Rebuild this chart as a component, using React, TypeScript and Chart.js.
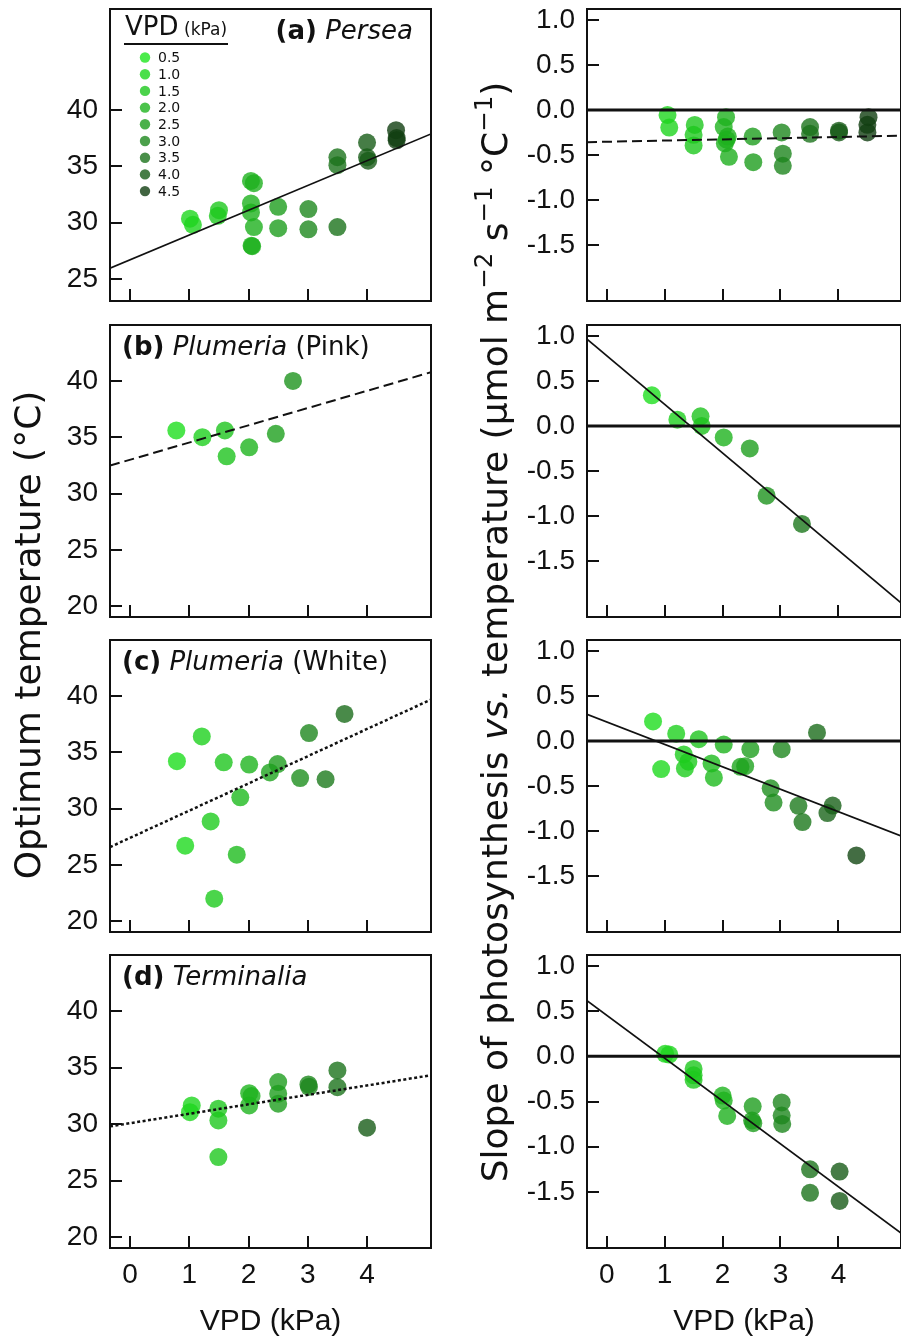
import React, { useEffect, useRef } from "react";
import { Chart, registerables } from "chart.js";

Chart.register(...registerables);

// ---------------- data ----------------
const X_TICKS = [0, 1, 2, 3, 4];
const TOPT_TICKS_PERSEA = [25, 30, 35, 40];
const TOPT_TICKS = [20, 25, 30, 35, 40];
const SLOPE_TICKS = [1.0, 0.5, 0.0, -0.5, -1.0, -1.5];
const LEGEND_VPD = ["0.5", "1.0", "1.5", "2.0", "2.5", "3.0", "3.5", "4.0", "4.5"];

const PANEL_LETTERS = ["(a)", "(b)", "(c)", "(d)"];
const GENUS = ["Persea", "Plumeria", "Plumeria", "Terminalia"];
const VARIETY = ["", "(Pink)", "(White)", ""];

// (a) Persea
const PERSEA_TOPT_VPD = [1.01, 1.06, 1.5, 1.48, 2.04, 2.09, 2.04, 2.04, 2.09, 2.05, 2.06, 2.5, 2.5, 3.01, 3.01, 3.5, 3.5, 3.5, 4.0, 4.0, 4.02, 4.49, 4.5, 4.5];
const PERSEA_TOPT = [30.35, 29.8, 31.1, 30.6, 33.7, 33.5, 31.7, 30.9, 29.6, 27.95, 27.9, 31.4, 29.5, 31.2, 29.4, 29.6, 35.8, 35.1, 37.1, 35.8, 35.5, 38.2, 37.5, 37.3];
const PERSEA_SLOPE_VPD = [1.05, 1.08, 1.52, 1.5, 1.5, 2.06, 2.02, 2.09, 2.04, 2.07, 2.11, 2.52, 2.53, 3.02, 3.04, 3.04, 3.51, 3.51, 4.01, 4.01, 4.52, 4.5, 4.5];
const PERSEA_SLOPE = [-0.055, -0.195, -0.166, -0.276, -0.394, -0.08, -0.19, -0.295, -0.37, -0.33, -0.52, -0.295, -0.58, -0.25, -0.485, -0.62, -0.19, -0.265, -0.23, -0.25, -0.08, -0.165, -0.25];
// (b) Plumeria (Pink)
const PINK_TOPT_VPD = [0.78, 1.22, 1.6, 1.63, 2.01, 2.46, 2.75];
const PINK_TOPT = [35.6, 35.0, 35.6, 33.3, 34.1, 35.3, 40.0];
const PINK_SLOPE_VPD = [0.78, 1.22, 1.62, 1.64, 2.02, 2.47, 2.76, 3.37];
const PINK_SLOPE = [0.34, 0.07, 0.107, 0.0, -0.128, -0.25, -0.774, -1.087];
// (c) Plumeria (White)
const WHITE_TOPT_VPD = [0.79, 1.21, 1.58, 2.01, 2.36, 2.49, 2.87, 3.02, 3.3, 3.62, 1.86, 1.36, 0.93, 1.8, 1.42];
const WHITE_TOPT = [34.2, 36.4, 34.1, 33.9, 33.2, 33.95, 32.7, 36.7, 32.6, 38.4, 31.0, 28.85, 26.7, 25.9, 22.0];
const WHITE_SLOPE_VPD = [0.8, 0.94, 1.2, 1.33, 1.41, 1.35, 1.59, 1.81, 1.85, 2.02, 2.31, 2.39, 2.48, 2.83, 2.88, 3.02, 3.31, 3.38, 3.63, 3.81, 3.9, 4.31];
const WHITE_SLOPE = [0.217, -0.312, 0.08, -0.15, -0.23, -0.305, 0.019, -0.25, -0.408, -0.04, -0.287, -0.28, -0.092, -0.526, -0.684, -0.092, -0.72, -0.9, 0.092, -0.8, -0.717, -1.27];
// (d) Terminalia
const TERM_TOPT_VPD = [1.04, 1.01, 1.49, 1.49, 1.49, 2.01, 2.05, 2.01, 2.5, 2.5, 2.5, 3.01, 3.02, 3.5, 3.5, 4.0];
const TERM_TOPT = [31.65, 31.06, 31.36, 30.33, 27.08, 32.74, 32.48, 31.65, 33.72, 32.69, 31.8, 33.51, 33.3, 34.75, 33.27, 29.68];
const TERM_SLOPE_VPD = [1.01, 1.08, 1.5, 1.5, 1.5, 2.0, 2.02, 2.08, 2.52, 2.51, 2.53, 3.02, 3.02, 3.03, 3.51, 3.51, 4.02, 4.02];
const TERM_SLOPE = [0.027, 0.019, -0.14, -0.21, -0.26, -0.435, -0.49, -0.66, -0.553, -0.71, -0.74, -0.51, -0.656, -0.748, -1.25, -1.51, -1.275, -1.6];

// fitted lines: y at the left and right ends of the x range
const FIT_PERSEA_TOPT = [25.96, 37.87];
const FIT_PINK_TOPT = [32.48, 40.77];
const FIT_WHITE_TOPT = [26.58, 39.67];
const FIT_TERM_TOPT = [29.8, 34.32];
const FIT_PERSEA_SLOPE = [-0.3575, -0.286];
const FIT_PINK_SLOPE = [0.963, -1.964];
const FIT_WHITE_SLOPE = [0.295, -1.055];
const FIT_TERM_SLOPE = [0.614, -1.955];

// axis ranges
const X_RANGE = [-0.34, 5.08];
const TOPT_RANGE_PERSEA = [23.04, 48.96];
const TOPT_RANGE = [19.04, 44.96];
const SLOPE_RANGE = [-2.12, 1.12];

// ---------------- style ----------------
const PALETTE = [
  [30, 230, 30],
  [30, 215, 30],
  [30, 200, 30],
  [30, 180, 30],
  [30, 158, 30],
  [30, 136, 30],
  [28, 115, 28],
  [24, 92, 24],
  [18, 62, 18],
];
const ALPHA = 0.8;

function colorFor(v: number) {
  let t = (v - 0.5) / 0.5;
  if (t < 0) t = 0;
  if (t > 8) t = 8;
  const i = Math.min(7, Math.floor(t));
  const f = t - i;
  const a = PALETTE[i];
  const b = PALETTE[i + 1];
  const c = a.map((ch, k) => Math.round(ch + (b[k] - ch) * f));
  return `rgba(${c[0]},${c[1]},${c[2]},${ALPHA})`;
}

const SANS = '"Liberation Sans", Arial, sans-serif';
const DEJAVU = '"DejaVu Sans", Verdana, sans-serif';
const INK = "#111";

const COLS = [
  { left: 0, yAxisW: 110, w: 445, padRight: 14 },
  { left: 500, yAxisW: 87, w: 410, padRight: 2 },
];
const ROWS = [
  { top: 0, h: 310, xAxisH: 8 },
  { top: 316, h: 310, xAxisH: 8 },
  { top: 631, h: 310, xAxisH: 8 },
  { top: 946, h: 394, xAxisH: 92 },
];

type PanelSpec = {
  row: number;
  col: number;
  xs: number[];
  ys: number[];
  fit: number[];
  dash: number[];
  fitWidth: number;
  yRange: number[];
  yTicks: number[];
  slope: boolean;
  title?: number;
  legend?: boolean;
};

const PANELS: PanelSpec[] = [
  { row: 0, col: 0, xs: PERSEA_TOPT_VPD, ys: PERSEA_TOPT, fit: FIT_PERSEA_TOPT, dash: [], fitWidth: 1.7, yRange: TOPT_RANGE_PERSEA, yTicks: TOPT_TICKS_PERSEA, slope: false, title: 0, legend: true },
  { row: 0, col: 1, xs: PERSEA_SLOPE_VPD, ys: PERSEA_SLOPE, fit: FIT_PERSEA_SLOPE, dash: [10, 5], fitWidth: 2, yRange: SLOPE_RANGE, yTicks: SLOPE_TICKS, slope: true },
  { row: 1, col: 0, xs: PINK_TOPT_VPD, ys: PINK_TOPT, fit: FIT_PINK_TOPT, dash: [10, 5], fitWidth: 2, yRange: TOPT_RANGE, yTicks: TOPT_TICKS, slope: false, title: 1 },
  { row: 1, col: 1, xs: PINK_SLOPE_VPD, ys: PINK_SLOPE, fit: FIT_PINK_SLOPE, dash: [], fitWidth: 1.7, yRange: SLOPE_RANGE, yTicks: SLOPE_TICKS, slope: true },
  { row: 2, col: 0, xs: WHITE_TOPT_VPD, ys: WHITE_TOPT, fit: FIT_WHITE_TOPT, dash: [3, 2.5], fitWidth: 2.5, yRange: TOPT_RANGE, yTicks: TOPT_TICKS, slope: false, title: 2 },
  { row: 2, col: 1, xs: WHITE_SLOPE_VPD, ys: WHITE_SLOPE, fit: FIT_WHITE_SLOPE, dash: [], fitWidth: 1.7, yRange: SLOPE_RANGE, yTicks: SLOPE_TICKS, slope: true },
  { row: 3, col: 0, xs: TERM_TOPT_VPD, ys: TERM_TOPT, fit: FIT_TERM_TOPT, dash: [3, 2.5], fitWidth: 2.5, yRange: TOPT_RANGE, yTicks: TOPT_TICKS, slope: false, title: 3 },
  { row: 3, col: 1, xs: TERM_SLOPE_VPD, ys: TERM_SLOPE, fit: FIT_TERM_SLOPE, dash: [], fitWidth: 1.7, yRange: SLOPE_RANGE, yTicks: SLOPE_TICKS, slope: true },
];

// ---------------- plugins ----------------
const framePlugin = {
  id: "frameTicks",
  afterDatasetsDraw(chart: any) {
    const { ctx, chartArea } = chart;
    const { left, right, top, bottom } = chartArea;
    ctx.save();
    ctx.strokeStyle = INK;
    ctx.lineWidth = 2;
    ctx.strokeRect(left, top, right - left, bottom - top);
    const xs = chart.scales.x;
    const ys = chart.scales.y;
    ctx.beginPath();
    xs.ticks.forEach((t: any) => {
      const px = Math.round(xs.getPixelForValue(t.value));
      ctx.moveTo(px, bottom);
      ctx.lineTo(px, bottom - 12);
    });
    ys.ticks.forEach((t: any) => {
      const py = Math.round(ys.getPixelForValue(t.value));
      ctx.moveTo(left, py);
      ctx.lineTo(left + 12, py);
    });
    ctx.stroke();
    ctx.restore();
  },
};

function makeTitlePlugin(idx: number) {
  return {
    id: "panelTitle",
    afterDraw(chart: any) {
      const { ctx, chartArea } = chart;
      const size = 26;
      const parts: [string, string][] = [
        [PANEL_LETTERS[idx], "bold"],
        [" ", "normal"],
        [GENUS[idx], "italic"],
      ];
      if (VARIETY[idx]) parts.push([" " + VARIETY[idx], "normal"]);
      ctx.save();
      ctx.fillStyle = INK;
      ctx.textBaseline = "alphabetic";
      ctx.textAlign = "left";
      const widths = parts.map(([txt, st]) => {
        ctx.font = `${st} ${size}px ${DEJAVU}`;
        return ctx.measureText(txt).width;
      });
      const total = widths.reduce((a, b) => a + b, 0);
      let x = idx === 0 ? chartArea.right - 18 - total : chartArea.left + 12;
      const y = chartArea.top + 30;
      parts.forEach(([txt, st], i) => {
        ctx.font = `${st} ${size}px ${DEJAVU}`;
        ctx.fillText(txt, x, y);
        x += widths[i];
      });
      ctx.restore();
    },
  };
}

const legendPlugin = {
  id: "vpdLegend",
  afterDraw(chart: any) {
    const { ctx, chartArea } = chart;
    const L = chartArea.left;
    const T = chartArea.top;
    ctx.save();
    ctx.fillStyle = INK;
    ctx.textAlign = "left";
    ctx.textBaseline = "alphabetic";
    ctx.font = `26px ${DEJAVU}`;
    ctx.fillText("VPD", L + 15, T + 26);
    ctx.font = `17px ${DEJAVU}`;
    ctx.fillText("(kPa)", L + 74, T + 26);
    ctx.strokeStyle = INK;
    ctx.lineWidth = 2;
    ctx.beginPath();
    ctx.moveTo(L + 14, T + 35);
    ctx.lineTo(L + 118, T + 35);
    ctx.stroke();
    ctx.font = `14px ${DEJAVU}`;
    ctx.textBaseline = "middle";
    LEGEND_VPD.forEach((lab, i) => {
      const cy = T + 48.5 + i * 16.7;
      ctx.fillStyle = colorFor(parseFloat(lab));
      ctx.beginPath();
      ctx.arc(L + 35, cy, 5.2, 0, Math.PI * 2);
      ctx.fill();
      ctx.fillStyle = INK;
      ctx.fillText(lab, L + 48, cy + 1);
    });
    ctx.restore();
  },
};

function zeroPad(s: any) {
  s.paddingTop = 0;
  s.paddingBottom = 0;
  s.paddingLeft = 0;
  s.paddingRight = 0;
}

function makeConfig(p: PanelSpec): any {
  const col = COLS[p.col];
  const row = ROWS[p.row];
  const bottomRow = p.row === 3;
  const datasets: any[] = [];
  datasets.push({
    data: [
      { x: X_RANGE[0], y: p.fit[0] },
      { x: X_RANGE[1], y: p.fit[1] },
    ],
    showLine: true,
    borderColor: INK,
    borderWidth: p.fitWidth,
    borderDash: p.dash,
    pointRadius: 0,
    order: 0,
  });
  if (p.slope) {
    datasets.push({
      data: [
        { x: X_RANGE[0], y: 0 },
        { x: X_RANGE[1], y: 0 },
      ],
      showLine: true,
      borderColor: INK,
      borderWidth: 3,
      pointRadius: 0,
      order: 0,
    });
  }
  datasets.push({
    data: p.xs.map((x, i) => ({ x, y: p.ys[i] })),
    showLine: false,
    pointRadius: 9,
    pointHoverRadius: 9,
    pointBorderWidth: 0,
    pointBackgroundColor: p.xs.map((x) => colorFor(x)),
    order: 1,
  });

  const plugins: any[] = [framePlugin];
  if (p.title !== undefined) plugins.push(makeTitlePlugin(p.title));
  if (p.legend) plugins.push(legendPlugin);

  return {
    type: "scatter",
    data: { datasets },
    plugins,
    options: {
      responsive: false,
      animation: false,
      events: [],
      devicePixelRatio: 1,
      layout: { padding: { top: 8, right: col.padRight, bottom: 0, left: 0 } },
      plugins: { legend: { display: false }, tooltip: { enabled: false } },
      scales: {
        x: {
          type: "linear",
          min: X_RANGE[0],
          max: X_RANGE[1],
          grid: { display: false, drawTicks: false },
          border: { display: false },
          ticks: {
            display: bottomRow,
            color: INK,
            font: { family: SANS, size: 28 },
            padding: 10,
            autoSkip: false,
            maxRotation: 0,
            callback: (v: any) => String(v),
          },
          title: {
            display: bottomRow,
            text: "VPD (kPa)",
            color: INK,
            font: { family: SANS, size: 30 },
            padding: { top: 0, bottom: 0 },
          },
          afterBuildTicks: (s: any) => {
            s.ticks = X_TICKS.map((v) => ({ value: v }));
          },
          afterFit: (s: any) => {
            s.height = row.xAxisH;
            zeroPad(s);
          },
        },
        y: {
          type: "linear",
          min: p.yRange[0],
          max: p.yRange[1],
          grid: { display: false, drawTicks: false },
          border: { display: false },
          ticks: {
            color: INK,
            font: { family: SANS, size: 28 },
            padding: 12,
            autoSkip: false,
            callback: (v: any) => (p.slope ? Number(v).toFixed(1) : String(v)),
          },
          afterBuildTicks: (s: any) => {
            s.ticks = p.yTicks.map((v) => ({ value: v }));
          },
          afterFit: (s: any) => {
            s.width = col.yAxisW;
            zeroPad(s);
          },
        },
      },
    },
  };
}

function Panel({ p }: { p: PanelSpec }) {
  const ref = useRef<HTMLCanvasElement>(null);
  const col = COLS[p.col];
  const row = ROWS[p.row];
  useEffect(() => {
    const chart = new Chart(ref.current as HTMLCanvasElement, makeConfig(p));
    return () => chart.destroy();
  }, []);
  return (
    <canvas
      ref={ref}
      width={col.w}
      height={row.h}
      style={{ position: "absolute", left: col.left, top: row.top, width: col.w, height: row.h }}
    />
  );
}

const supStyle: React.CSSProperties = { fontSize: "0.68em", position: "relative", top: "-0.62em" };

export default function App() {
  return (
    <div
      style={{
        position: "absolute",
        left: 0,
        top: 0,
        width: 901,
        height: 1340,
        overflow: "hidden",
        background: "#fff",
      }}
    >
      {PANELS.map((p, i) => (
        <Panel key={i} p={p} />
      ))}
      <div
        style={{
          position: "absolute",
          left: 27.5 - 350,
          top: 634.5 - 18,
          width: 700,
          height: 36,
          lineHeight: "36px",
          fontSize: 36,
          fontFamily: DEJAVU,
          color: INK,
          textAlign: "center",
          whiteSpace: "nowrap",
          transform: "rotate(-90deg)",
        }}
      >
        Optimum temperature (°C)
      </div>
      <div
        style={{
          position: "absolute",
          left: 494.5 - 650,
          top: 632 - 18,
          width: 1300,
          height: 36,
          lineHeight: "36px",
          fontSize: 36,
          fontFamily: DEJAVU,
          color: INK,
          textAlign: "center",
          whiteSpace: "nowrap",
          transform: "rotate(-90deg)",
        }}
      >
        Slope of photosynthesis <i>vs.</i> temperature (μmol m<span style={supStyle}>−2</span> s
        <span style={supStyle}>−1</span> °C<span style={supStyle}>−1</span>)
      </div>
    </div>
  );
}
